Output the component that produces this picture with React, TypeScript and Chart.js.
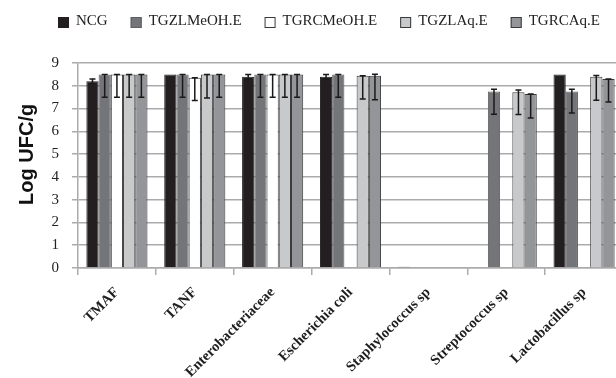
import React, { useEffect, useRef } from "react";
import { Chart, registerables } from "chart.js";

Chart.register(...registerables);

// Categories on the x axis
const categories = [
  "TMAF",
  "TANF",
  "Enterobacteriaceae",
  "Escherichia coli",
  "Staphylococcus sp",
  "Streptococcus sp",
  "Lactobacillus sp",
];

// Series labels
const seriesLabels = ["NCG", "TGZLMeOH.E", "TGRCMeOH.E", "TGZLAq.E", "TGRCAq.E"];

// Mean counts (Log UFC/g)
const ncg = [8.2, 8.5, 8.4, 8.4, 0.05, 0, 8.5];
const tgzlMeoh = [8.5, 8.5, 8.5, 8.5, 0, 7.75, 7.75];
const tgrcMeoh = [8.5, 8.35, 8.5, 0, 0, 0, 0];
const tgzlAq = [8.5, 8.5, 8.5, 8.44, 0, 7.72, 8.4];
const tgrcAq = [8.5, 8.5, 8.5, 8.44, 0, 7.64, 8.3];

// Error bars: upper and lower extents
const ncgErrUp = [0.1, 0, 0.1, 0.1, 0, 0, 0];
const ncgErrDown = [0.1, 0, 0.1, 0.1, 0, 0, 0];
const tgzlMeohErrUp = [0, 0, 0, 0, 0, 0.1, 0.1];
const tgzlMeohErrDown = [1, 1, 1, 1, 0, 1, 0.95];
const tgrcMeohErrUp = [0, 0, 0, 0, 0, 0, 0];
const tgrcMeohErrDown = [1, 1, 1, 0, 0, 0, 0];
const tgzlAqErrUp = [0, 0, 0, 0, 0, 0.1, 0.05];
const tgzlAqErrDown = [1, 1.04, 1, 1.02, 0, 0.98, 1.04];
const tgrcAqErrUp = [0, 0, 0, 0.07, 0, 0, 0];
const tgrcAqErrDown = [1, 1, 1, 1.05, 0, 1.06, 1.01];

// Y axis range
const yMin = 0;
const yMax = 9;

const seriesValues = [ncg, tgzlMeoh, tgrcMeoh, tgzlAq, tgrcAq];
const seriesErrUp = [ncgErrUp, tgzlMeohErrUp, tgrcMeohErrUp, tgzlAqErrUp, tgrcAqErrUp];
const seriesErrDown = [ncgErrDown, tgzlMeohErrDown, tgrcMeohErrDown, tgzlAqErrDown, tgrcAqErrDown];
const seriesFill = ["#231f20", "#747578", "#ffffff", "#c8c9cb", "#949598"];
const seriesBorder = ["#231f20", "#5e5f62", "#3a3a3a", "#3a3a3a", "#3a3a3a"];

const errorBarPlugin = {
  id: "errorBars",
  afterDatasetsDraw(chart: any) {
    const ctx = chart.ctx;
    const yScale = chart.scales.y;
    ctx.save();
    ctx.strokeStyle = "#1a1a1a";
    ctx.lineWidth = 1.5;
    chart.data.datasets.forEach((ds: any, i: number) => {
      const meta = chart.getDatasetMeta(i);
      meta.data.forEach((bar: any, j: number) => {
        const v = ds.data[j];
        const up = ds.errUp[j];
        const down = ds.errDown[j];
        if (!v || (up === 0 && down === 0)) return;
        const x = bar.x;
        const yTop = yScale.getPixelForValue(v + up);
        const yBot = yScale.getPixelForValue(v - down);
        const cap = 3;
        ctx.beginPath();
        ctx.moveTo(x, yTop);
        ctx.lineTo(x, yBot);
        ctx.moveTo(x - cap, yTop);
        ctx.lineTo(x + cap, yTop);
        ctx.moveTo(x - cap, yBot);
        ctx.lineTo(x + cap, yBot);
        ctx.stroke();
      });
    });
    ctx.restore();
  },
};

const topLegendPlugin = {
  id: "topLegend",
  afterDraw(chart: any, _args: any, opts: any) {
    const ctx = chart.ctx;
    ctx.save();
    ctx.font = opts.font;
    ctx.textBaseline = "alphabetic";
    let x = opts.x;
    const box = opts.boxSize;
    chart.data.datasets.forEach((ds: any) => {
      ctx.fillStyle = ds.backgroundColor;
      ctx.fillRect(x, opts.boxTop, box, box);
      ctx.strokeStyle = ds.borderColor;
      ctx.lineWidth = 1;
      ctx.strokeRect(x + 0.5, opts.boxTop + 0.5, box - 1, box - 1);
      ctx.fillStyle = opts.color;
      const tx = x + box + opts.textGap;
      ctx.fillText(ds.label, tx, opts.baseline);
      x = tx + ctx.measureText(ds.label).width + opts.itemGap;
    });
    ctx.restore();
  },
};

export default function App() {
  const canvasRef = useRef<HTMLCanvasElement | null>(null);

  useEffect(() => {
    document.body.style.margin = "0";
    const canvas = canvasRef.current;
    if (!canvas) return;
    const gridColor = "#ababab";
    const chart = new Chart(canvas, {
      type: "bar",
      data: {
        labels: categories,
        datasets: seriesLabels.map((label, i) => ({
          label,
          data: seriesValues[i],
          errUp: seriesErrUp[i],
          errDown: seriesErrDown[i],
          backgroundColor: seriesFill[i],
          borderColor: seriesBorder[i],
          borderWidth: 1,
          categoryPercentage: 0.785,
          barPercentage: 1,
        })) as any,
      },
      options: {
        responsive: false,
        animation: false,
        layout: { padding: { top: 63, right: 17, bottom: 0, left: 0 } },
        plugins: {
          legend: { display: false },
          tooltip: { enabled: false },
          topLegend: {
            x: 58,
            boxTop: 17,
            boxSize: 11,
            textGap: 7,
            itemGap: 23,
            baseline: 25,
            font: "15px 'Liberation Serif'",
            color: "#222222",
          },
        } as any,
        scales: {
          x: {
            grid: {
              display: true,
              drawOnChartArea: false,
              drawTicks: true,
              tickLength: 7,
              color: gridColor,
              lineWidth: 1.5,
              offset: true,
            },
            border: { color: gridColor, width: 1.5 },
            ticks: {
              autoSkip: false,
              minRotation: 45,
              maxRotation: 45,
              padding: 9,
              color: "#1e1e1e",
              font: { family: "'Liberation Serif'", size: 14.5, weight: "bold" },
            },
            afterFit: (scale: any) => {
              scale.height = 110;
            },
          },
          y: {
            min: yMin,
            max: yMax,
            ticks: {
              stepSize: 1,
              padding: 13,
              color: "#222222",
              font: { family: "'Liberation Serif'", size: 15 },
            },
            grid: {
              color: gridColor,
              lineWidth: 1.5,
              tickLength: 6,
            },
            border: { color: gridColor, width: 1.5 },
            title: {
              display: true,
              text: "    Log UFC/g",
              color: "#111111",
              font: { family: "'Liberation Sans'", size: 20, weight: "bold" },
              padding: { top: 15, bottom: 0 },
            },
            afterFit: (scale: any) => {
              scale.width = 78;
            },
          },
        },
      },
      plugins: [errorBarPlugin, topLegendPlugin],
    });
    return () => chart.destroy();
  }, []);

  return (
    <div style={{ width: 616, height: 378, overflow: "hidden", background: "#ffffff" }}>
      <canvas ref={canvasRef} width={640} height={378} style={{ display: "block" }} />
    </div>
  );
}
